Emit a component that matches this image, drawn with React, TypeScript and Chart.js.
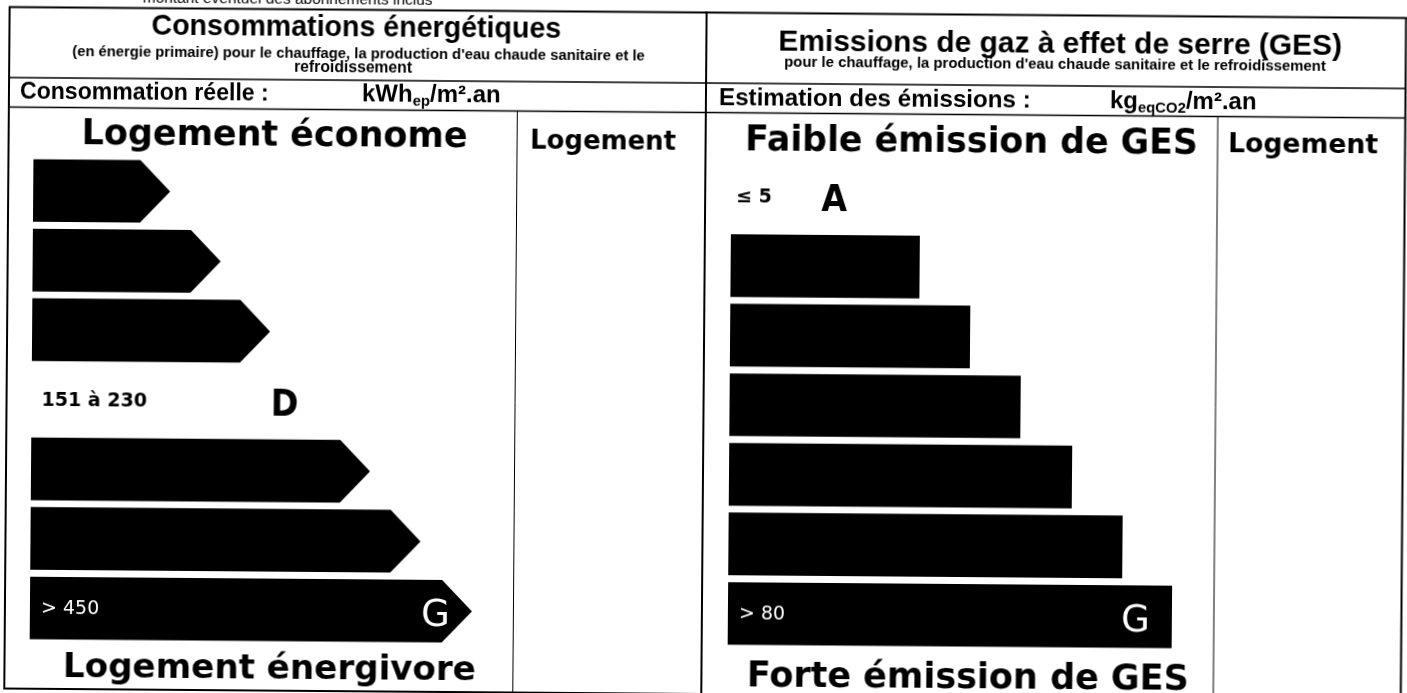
import { useEffect, useRef } from 'react';
import { Chart, registerables } from 'chart.js';

Chart.register(...registerables);

// ---------- data ----------
const classes = ['A', 'B', 'C', 'D', 'E', 'F', 'G'];
const energyBarLengths = [137, 188, 238, 289, 339, 390, 442];
const gesBarLengths = [138, 189, 240, 291, 343, 394, 444];
const energyBarColors = ['#000000', '#000000', '#000000', '#ffffff', '#000000', '#000000', '#000000'];
const gesBarColors = ['#ffffff', '#000000', '#000000', '#000000', '#000000', '#000000', '#000000'];
const energyRangeLabels = ['', '', '', '151 à 230', '', '', '> 450'];
const gesRangeLabels = ['≤ 5', '', '', '', '', '', '> 80'];
const energyLabelColors = ['', '', '', '#000000', '', '', '#ffffff'];
const gesLabelColors = ['#000000', '', '', '', '', '', '#ffffff'];

const W = 1407;
const H = 700;
const ARIAL = '"Liberation Sans", Arial, sans-serif';
const VERD = '"DejaVu Sans", Verdana, sans-serif';
const VERD_C = '"DejaVu Sans Condensed", "DejaVu Sans", Verdana, sans-serif';

type TextSpec = [string, number, number, number, string, string];
type LineSpec = [number, number, number, number, number];

const energyTexts: TextSpec[] = [
  ['montant éventuel des abonnements inclus', 140, 6.5, 290, ARIAL, 'normal'],
  ['Consommations énergétiques', 149, 39, 410, ARIAL, 'bold'],
  ["(en énergie primaire) pour le chauffage, la production d'eau chaude sanitaire et le", 70, 61, 573, ARIAL, 'bold'],
  ['refroidissement', 292, 75, 118, ARIAL, 'bold'],
  ['Consommation réelle :', 18, 104, 249, ARIAL, 'bold'],
  ['Logement économe', 80, 148.5, 386, VERD, 'bold'],
  ['Logement', 528.5, 150, 146, VERD, 'bold'],
  ['Logement énergivore', 65.5, 682, 413, VERD, 'bold'],
];
const gesTexts: TextSpec[] = [
  ['Emissions de gaz à effet de serre (GES)', 776, 50, 564, ARIAL, 'bold'],
  ["pour le chauffage, la production d'eau chaude sanitaire et le refroidissement", 782, 66, 542, ARIAL, 'bold'],
  ['Estimation des émissions :', 717, 105, 312, ARIAL, 'bold'],
  ['Faible émission de GES', 743.5, 150, 453, VERD, 'bold'],
  ['Logement', 1226.5, 148, 150, VERD, 'bold'],
  ['Forte émission de GES', 749.5, 686, 442, VERD, 'bold'],
];
const energyUnit = ['kWh', 'ep', '/m².an'];
const gesUnit = ['kg', 'eqCO2', '/m².an'];

const energyLines: LineSpec[] = [
  [6, 12.5, 705, 12.5, 2],
  [7, 12, 7, 695, 2],
  [704, 12, 704, 695, 2],
  [7, 83, 704, 83, 1.5],
  [7, 112.5, 704, 112.5, 1.5],
  [515.5, 112.5, 515.5, 695, 1],
  [6, 694, 705, 694, 2],
];
const gesLines: LineSpec[] = [
  [703, 12.5, 1404.5, 12.5, 2],
  [1403.5, 12, 1403.5, 695, 2],
  [704, 83, 1403.5, 83, 1.5],
  [704, 112.5, 1403.5, 112.5, 1.5],
  [1216, 112.5, 1216, 695, 1],
  [703, 694, 1404.5, 694, 2],
];

// ---------- helpers ----------
function drawFit(ctx: CanvasRenderingContext2D, t: TextSpec) {
  const [text, x, y, width, family, weight] = t;
  ctx.font = `${weight} 100px ${family}`;
  const w = ctx.measureText(text).width;
  const size = (100 * width) / w;
  ctx.font = `${weight} ${size}px ${family}`;
  ctx.fillText(text, x, y);
}

function drawUnit(ctx: CanvasRenderingContext2D, parts: string[], x: number, y: number) {
  const [main, sub, rest] = parts;
  const s = 24;
  let cx = x;
  ctx.font = `bold ${s}px ${ARIAL}`;
  ctx.fillText(main, cx, y);
  cx += ctx.measureText(main).width;
  ctx.font = `bold ${s * 0.62}px ${ARIAL}`;
  ctx.fillText(sub, cx, y + 3.5);
  cx += ctx.measureText(sub).width;
  ctx.font = `bold ${s}px ${ARIAL}`;
  ctx.fillText(rest, cx, y);
}

function framePlugin(id: string, lines: LineSpec[], texts: TextSpec[], unit: string[], ux: number, uy: number) {
  return {
    id,
    beforeDraw(chart: any) {
      const ctx: CanvasRenderingContext2D = chart.ctx;
      ctx.save();
      ctx.strokeStyle = '#000000';
      lines.forEach(([x1, y1, x2, y2, lw]) => {
        ctx.lineWidth = lw;
        ctx.beginPath();
        ctx.moveTo(x1, y1);
        ctx.lineTo(x2, y2);
        ctx.stroke();
      });
      ctx.fillStyle = '#000000';
      ctx.textAlign = 'left';
      ctx.textBaseline = 'alphabetic';
      texts.forEach((t) => drawFit(ctx, t));
      drawUnit(ctx, unit, ux, uy);
      ctx.restore();
    },
  };
}

const arrowPlugin = {
  id: 'arrowBars',
  beforeDatasetsDraw(chart: any) {
    const ctx: CanvasRenderingContext2D = chart.ctx;
    const meta = chart.getDatasetMeta(0);
    const colors = chart.data.datasets[0].backgroundColor as string[];
    ctx.save();
    meta.data.forEach((el: any, i: number) => {
      const { x, y, base, height } = el.getProps(['x', 'y', 'base', 'height'], true);
      const half = height / 2;
      const tip = 30;
      ctx.fillStyle = colors[i];
      ctx.beginPath();
      ctx.moveTo(base, y - half);
      ctx.lineTo(x - tip, y - half);
      ctx.lineTo(x, y);
      ctx.lineTo(x - tip, y + half);
      ctx.lineTo(base, y + half);
      ctx.closePath();
      ctx.fill();
    });
    ctx.restore();
    return false;
  },
};

function labelPlugin(id: string, ranges: string[], colors: string[], rangeOffset: number) {
  return {
    id,
    afterDraw(chart: any) {
      const ctx: CanvasRenderingContext2D = chart.ctx;
      const meta = chart.getDatasetMeta(0);
      ctx.save();
      ctx.textBaseline = 'alphabetic';
      meta.data.forEach((el: any, i: number) => {
        const c = colors[i];
        if (!c) return;
        const { x, y, base } = el.getProps(['x', 'y', 'base'], true);
        const bold = c === '#000000';
        ctx.fillStyle = c;
        ctx.textAlign = 'left';
        ctx.font = `${bold ? 'bold' : 'normal'} 19px ${VERD}`;
        ctx.fillText(ranges[i], base + (bold ? rangeOffset : 11), y + 6);
        ctx.textAlign = 'right';
        ctx.font = bold ? `bold 37px ${VERD_C}` : `normal 37px ${VERD}`;
        ctx.fillText(classes[i], x - 22, y + 14.5);
      });
      ctx.restore();
    },
  };
}

function barConfig(values: number[], colors: string[], left: number, plugins: any[]) {
  return {
    type: 'bar' as const,
    data: {
      labels: classes,
      datasets: [
        {
          data: values,
          backgroundColor: colors,
          barPercentage: 0.9,
          categoryPercentage: 1,
          borderWidth: 0,
        },
      ],
    },
    options: {
      indexAxis: 'y' as const,
      responsive: false,
      animation: false as const,
      devicePixelRatio: 1,
      events: [] as any[],
      layout: { padding: { left, right: W - left - 500, top: 161, bottom: H - 648 } },
      scales: {
        x: { display: false, min: 0, max: 500 },
        y: { display: false },
      },
      plugins: { legend: { display: false }, tooltip: { enabled: false } },
    },
    plugins,
  };
}

export default function App() {
  const r1 = useRef<HTMLCanvasElement>(null);
  const r2 = useRef<HTMLCanvasElement>(null);

  useEffect(() => {
    const c1 = new Chart(
      r1.current as HTMLCanvasElement,
      barConfig(energyBarLengths, energyBarColors, 32, [
        framePlugin('energyFrame', energyLines, energyTexts, energyUnit, 360, 104),
        arrowPlugin,
        labelPlugin('energyLabels', energyRangeLabels, energyLabelColors, 10),
      ]) as any
    );
    const c2 = new Chart(
      r2.current as HTMLCanvasElement,
      barConfig(gesBarLengths, gesBarColors, 730, [
        framePlugin('gesFrame', gesLines, gesTexts, gesUnit, 1108, 105),
        labelPlugin('gesLabels', gesRangeLabels, gesLabelColors, 5),
      ]) as any
    );
    return () => {
      c1.destroy();
      c2.destroy();
    };
  }, []);

  return (
    <div style={{ position: 'fixed', left: 0, top: 0, width: 1407, height: 693, overflow: 'hidden', background: '#ffffff' }}>
      <div
        style={{
          position: 'absolute',
          left: 0,
          top: 0,
          width: W,
          height: H,
          transform: 'rotate(0.45deg)',
          transformOrigin: '703px 346px',
        }}
      >
        <canvas ref={r1} width={W} height={H} style={{ position: 'absolute', left: 0, top: 0 }} />
        <canvas ref={r2} width={W} height={H} style={{ position: 'absolute', left: 0, top: 0 }} />
      </div>
    </div>
  );
}
